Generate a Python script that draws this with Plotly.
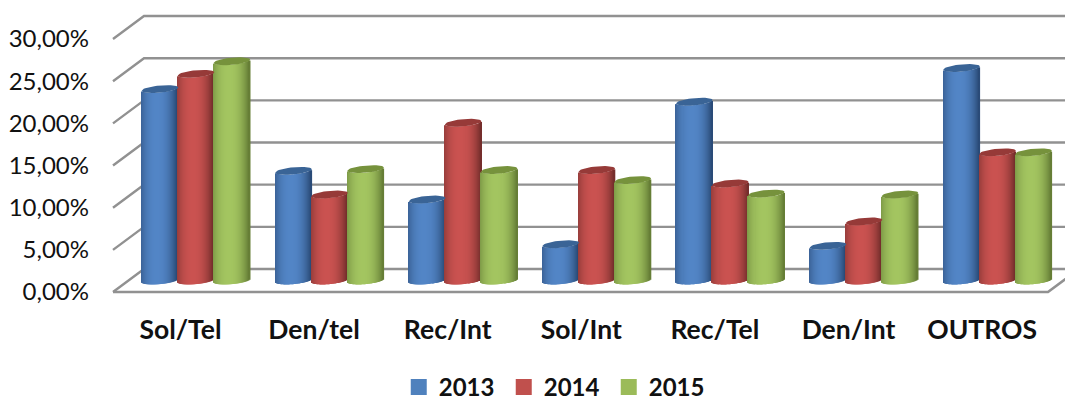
import math
import plotly.graph_objects as go

categories = ["Sol/Tel", "Den/tel", "Rec/Int", "Sol/Int", "Rec/Tel", "Den/Int", "OUTROS"]
v2013 = [0.227, 0.130, 0.096, 0.043, 0.212, 0.041, 0.252]
v2014 = [0.245, 0.102, 0.187, 0.131, 0.115, 0.070, 0.152]
v2015 = [0.260, 0.132, 0.131, 0.119, 0.103, 0.102, 0.152]
years = ["2013", "2014", "2015"]
tick_values = [0, 0.05, 0.10, 0.15, 0.20, 0.25, 0.30]

W, H = 1065, 401
PX_X = 133.6      # pixels per category
PX_Y = 843.3      # pixels per unit of value
X0 = 180.5        # pixel of first category on the front plane
Y0 = 292          # pixel of 0 on the front plane

COLORS = {
    "2013": dict(mid=(82, 133, 198), edge=(40, 72, 115), cap=(58, 100, 150), key="#4f81bd"),
    "2014": dict(mid=(202, 82, 80), edge=(112, 44, 42), cap=(150, 58, 56), key="#c0504d"),
    "2015": dict(mid=(163, 197, 96), edge=(98, 122, 52), cap=(118, 146, 60), key="#9bbb59"),
}

depth_x = 31 / PX_X
depth_y = 23 / PX_Y
bar_off_x = depth_x / 2
bar_off_y = 11.5 / PX_Y
bar_w = 36.5 / PX_X
bar_step = 36 / PX_X
ry = 3.6 / PX_Y
tilt = 1.6 / PX_Y
N = 36

def shade(t, c):
    u = abs(t + 0.12) / 1.12
    k = min(1.0, u ** 2.3)
    r = [round(m + (e - m) * k) for m, e in zip(c["mid"], c["edge"])]
    return f"rgb({r[0]},{r[1]},{r[2]})"

fig = go.Figure()
series = [v2013, v2014, v2015]
for s, (year, values) in enumerate(zip(years, series)):
    c = COLORS[year]
    for j in range(N):
        t = -1 + (2 * j + 1) / N
        lower = -ry * math.sqrt(max(0, 1 - t * t)) + tilt * t
        xs = [i + bar_off_x + (s - 1) * bar_step + t * bar_w / 2 for i in range(len(values))]
        fig.add_trace(go.Bar(
            x=xs, y=values,
            base=[bar_off_y + lower] * len(values),
            width=bar_w / N * 1.5,
            marker=dict(color=shade(t, c), line=dict(width=0)),
            showlegend=False, hoverinfo="skip",
        ))
    for i, v in enumerate(values):
        cx = i + bar_off_x + (s - 1) * bar_step
        ex, ey = [], []
        for a in range(41):
            th = 2 * math.pi * a / 40
            ct, st = math.cos(th), math.sin(th)
            ex.append(cx + ct * bar_w / 2)
            ey.append(v + bar_off_y + ry * st + tilt * ct)
        fig.add_trace(go.Scatter(
            x=ex, y=ey, mode="lines", fill="toself",
            fillcolor="rgb({},{},{})".format(*c["cap"]),
            line=dict(width=0), showlegend=False, hoverinfo="skip",
        ))
    fig.add_trace(go.Scatter(
        x=[None], y=[None], mode="markers", name=year,
        marker=dict(symbol="square", size=16, color=c["key"]),
    ))

left = (113 - X0) / PX_X
right = (1048 - X0) / PX_X
far = (W + 5 - X0) / PX_X
GRID = "#919191"
shapes = []
for v in tick_values:
    shapes.append(dict(
        type="path", layer="below", line=dict(color=GRID, width=2.4),
        path=f"M {left} {v} L {left + depth_x} {v + depth_y} L {far} {v + depth_y}",
    ))
shapes.append(dict(
    type="path", layer="below", line=dict(color=GRID, width=2.6),
    path=f"M {left} 0 L {right} 0 L {right + depth_x} {depth_y}",
))

fig.update_layout(
    width=W, height=H,
    margin=dict(l=0, r=0, t=0, b=0, autoexpand=False),
    paper_bgcolor="white", plot_bgcolor="white",
    barmode="overlay", separators=",.",
    font=dict(family="Lato", color="#111111"),
    shapes=shapes,
    showlegend=True,
    legend=dict(
        orientation="h", x=0.5223, xanchor="center", y=-0.022, yanchor="bottom",
        font=dict(size=24, family="Lato", weight="bold", color="#111111"),
        itemwidth=30, entrywidth=60, entrywidthmode="pixels",
        bgcolor="rgba(0,0,0,0)", traceorder="normal",
    ),
    xaxis=dict(
        range=[(0 - X0) / PX_X, (W - X0) / PX_X],
        tickmode="array", tickvals=list(range(len(categories))), ticktext=categories,
        showgrid=False, zeroline=False, showline=False, ticks="",
        anchor="free", position=(H - Y0) / H, ticklabelstandoff=19,
        tickfont=dict(size=26.5, family="Lato", weight="bold", color="#111111"),
    ),
    yaxis=dict(
        range=[(Y0 - H) / PX_Y, Y0 / PX_Y],
        tickmode="array", tickvals=tick_values, tickformat=".2%",
        showgrid=False, zeroline=False, showline=False, ticks="",
        anchor="free", position=113 / W, ticklabelstandoff=24,
        tickfont=dict(size=24, family="Lato", color="#111111"),
    ),
)
fig.write_html("out.html", config=dict(displayModeBar=False),
               post_script="document.body.style.margin='0';")
